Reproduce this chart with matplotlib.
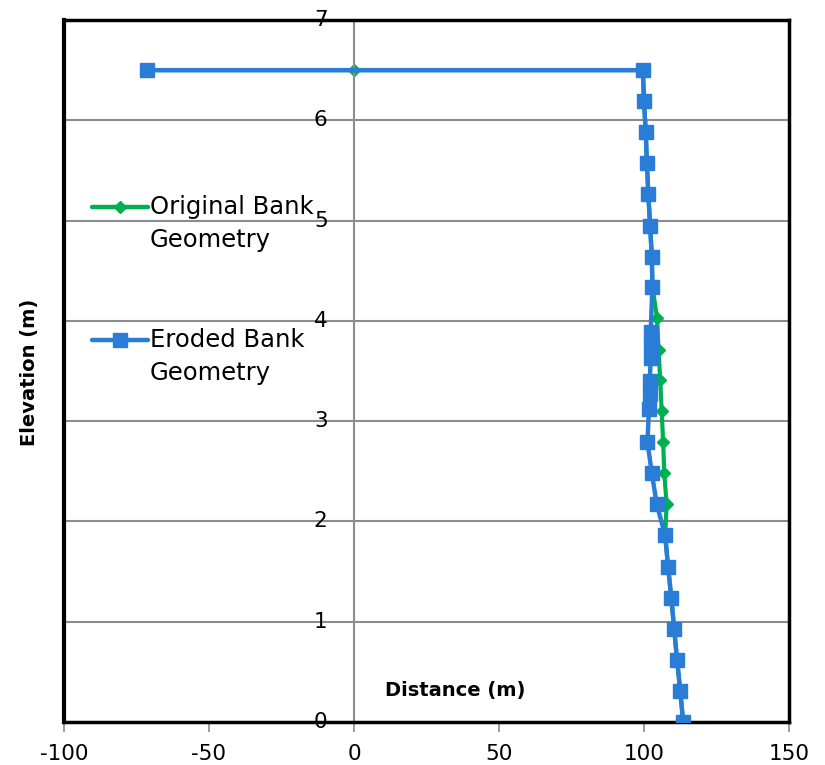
import matplotlib
matplotlib.use("Agg")
import matplotlib.pyplot as plt
from matplotlib.lines import Line2D

# ─── Data ─────────────────────────────────────────────────────────────────────
orig_x = [-71.5, 0, 99.6, 100.0, 100.6, 101.0, 101.5, 102.1, 102.7, 102.9,
          104.5, 105.0, 105.6, 106.1, 106.6, 107.0, 107.8, 107.3,
          108.3, 109.4, 110.4, 111.4, 112.5, 113.5]
orig_y = [6.5, 6.5, 6.5, 6.19, 5.88, 5.57, 5.26, 4.95, 4.64, 4.34,
          4.03, 3.71, 3.41, 3.10, 2.79, 2.48, 2.17, 1.86,
          1.55, 1.24, 0.93, 0.62, 0.31, 0.0]

eroded_x = [-71.5, 99.6, 100.0, 100.6, 101.0, 101.5, 102.1, 102.7, 102.9,
            102.3, 102.3, 102.3, 102.0, 102.0, 101.7, 101.2, 102.7, 104.4,
            107.3, 108.3, 109.4, 110.4, 111.4, 112.5, 113.5]
eroded_y = [6.5, 6.5, 6.19, 5.88, 5.57, 5.26, 4.95, 4.64, 4.34,
            3.89, 3.76, 3.63, 3.40, 3.27, 3.12, 2.79, 2.48, 2.17,
            1.86, 1.55, 1.24, 0.93, 0.62, 0.31, 0.0]

x_ticks = [-100, -50, 0, 50, 100, 150]
y_ticks = [0, 1, 2, 3, 4, 5, 6, 7]

GREEN = "#00B050"
BLUE = "#2A7DD6"

plt.rcParams["font.family"] = ["DejaVu Sans"]
plt.rcParams["axes.unicode_minus"] = False

fig = plt.figure(figsize=(8.25, 7.65), dpi=100)
ax = fig.add_axes([64 / 825, 43 / 765, 725 / 825, 702 / 765])

ax.set_xlim(-100, 150)
ax.set_ylim(0, 7)

# horizontal gridlines
for yv in y_ticks[1:-1]:
    ax.axhline(yv, color="#8c8c8c", lw=1.5, zorder=0)

# series
ax.plot(orig_x, orig_y, color=GREEN, lw=3, marker="D", ms=6.5,
        mec=GREEN, mfc=GREEN, zorder=2)
ax.plot(eroded_x, eroded_y, color=BLUE, lw=3.2, marker="s", ms=10,
        mec=BLUE, mfc=BLUE, zorder=3)

# frame
for side in ["top", "right", "bottom"]:
    ax.spines[side].set_color("black")
    ax.spines[side].set_linewidth(2.5)
ax.axvline(-100, color="black", lw=3, zorder=5, clip_on=False)

# y axis sits at x = 0
ax.spines["left"].set_position(("data", 0))
ax.spines["left"].set_color("#8c8c8c")
ax.spines["left"].set_linewidth(1.5)

ax.set_xticks(x_ticks)
ax.set_yticks(y_ticks)
ax.tick_params(axis="x", direction="out", length=7, width=1.2,
               color="#8c8c8c", labelsize=15.5, pad=9)
ax.tick_params(axis="y", direction="out", length=7, width=1.2,
               color="#8c8c8c", labelsize=15.5, pad=12)
for lab in ax.get_yticklabels():
    lab.set_verticalalignment("center")

# axis titles placed inside the plot as in the reference
ax.text(35, 0.31, "Distance (m)", fontsize=14, fontweight="bold",
        ha="center", va="center")
fig.text(30 / 825, 1 - 372 / 765, "Elevation (m)", fontsize=14,
         fontweight="bold", rotation=90, ha="center", va="center")

# legend, drawn by hand so the key sits on the first text line
leg = [("Original Bank\nGeometry", GREEN, "D", 6.5, 207),
       ("Eroded Bank\nGeometry", BLUE, "s", 10, 340)]
for label, col, mk, ms, ypx in leg:
    yf = 1 - (ypx - 20) / 702
    x0 = (92 - 64) / 725
    x1 = (148 - 64) / 725
    ax.add_line(Line2D([x0, x1], [yf, yf], transform=ax.transAxes,
                       color=col, lw=3.2, solid_capstyle="round", zorder=6))
    ax.add_line(Line2D([(x0 + x1) / 2], [yf], transform=ax.transAxes,
                       color=col, marker=mk, ms=ms, mec=col, mfc=col, zorder=6))
    ax.text((150 - 64) / 725, yf + 12 / 702, label, transform=ax.transAxes,
            fontsize=17.5, ha="left", va="top", linespacing=1.45,
            zorder=6)

fig.savefig("out.png", dpi=100)
